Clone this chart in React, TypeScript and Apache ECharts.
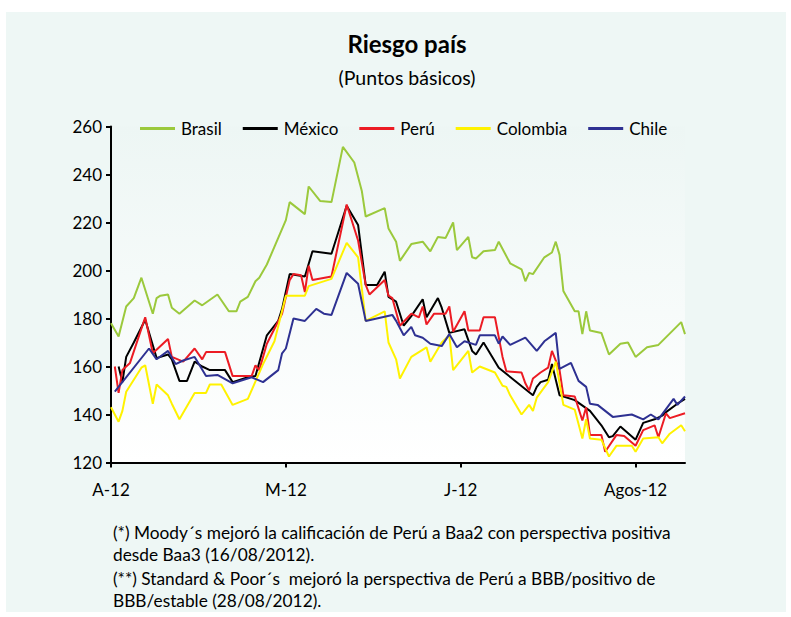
import React, { useEffect, useRef } from "react";
import * as echarts from "echarts";

// x values are calendar days counted from 2 April 2012
const xTickDays = [0, 46, 92, 138];
const xTickLabels = ["A-12", "M-12", "J-12", "Agos-12"];
const seriesNames = ["Brasil", "México", "Perú", "Colombia", "Chile"];
const seriesColors = ["#9bc93c", "#000000", "#ec1c24", "#fff200", "#2e3192"];

const brasil: [number, number][] = [
  [0, 178], [2, 172.5], [4, 185], [6, 188.5], [8, 197], [11, 182], [12, 188.5], [13, 189.5], [15, 190],
  [16, 184.5], [18, 182], [22, 187.5], [24, 185.5], [28, 190], [31, 183], [33, 183], [34, 187], [36, 189],
  [38, 195.5], [39, 197], [41, 202.5], [46, 221], [47, 228.5], [51, 223.5], [52, 235], [55, 229], [58, 228.5],
  [61, 251.5], [64, 245], [66, 233], [67, 222.5], [72, 226], [73, 217.5], [75, 212], [76, 204], [79, 211],
  [82, 212], [84, 208], [86, 214], [88, 213.5], [90, 220], [91, 208.5], [94, 214], [95, 205.5], [96, 205],
  [98, 208], [101, 208.5], [102, 212], [105, 203], [108, 200.5], [109, 195.5], [110, 199], [111, 198.5],
  [114, 205.5], [116, 207.5], [117, 212], [118, 206.5], [119, 191.5], [122, 183], [123, 183], [124, 173.5],
  [125, 183], [126, 175], [129, 174], [131, 165], [134, 169.5], [136, 170], [138, 164], [141, 168], [144, 169],
  [150, 178.5], [151, 173.5],
];
const mexico: [number, number][] = [
  [2, 160], [3, 153.5], [4, 164], [6, 170], [9, 179.5], [12, 163.5], [15, 165], [16, 163], [18, 154], [20, 154],
  [22, 162], [24, 160], [26, 158.5], [30, 158.5], [32, 153.5], [36, 155.5], [38, 156], [41, 173], [44, 179],
  [45, 184], [47, 198.5], [51, 197.5], [53, 208], [58, 207], [62, 227], [65, 219], [67, 194], [70, 194],
  [72, 199.5], [73, 189], [75, 187], [77, 177], [79, 181], [82, 188], [83, 180.5], [86, 188.5], [87, 184.5],
  [89, 174], [93, 175.5], [95, 166.5], [96, 165], [98, 170], [102, 159.5], [111, 148], [112, 151.5],
  [113, 153.5], [115, 154.5], [116, 161], [118, 148], [122, 146], [126, 141.5], [129, 135.5], [131, 130.5],
  [132, 131], [134, 135], [138, 129.5], [140, 136.5], [143, 138], [145, 139.5], [146, 141], [149, 144.5],
  [151, 146.5],
];
const peru: [number, number][] = [
  [1, 160], [2, 149], [3, 158.5], [5, 161.5], [9, 180.5], [11, 165.5], [15, 171.5], [16, 164], [19, 162],
  [22, 167.5], [24, 163], [25, 166], [30, 166], [32, 156], [37, 156], [38, 160.5], [39, 158.5], [41, 169.5],
  [45, 182], [47, 196], [48, 198.5], [50, 198], [51, 191], [52, 202], [53, 196], [58, 197.5], [62, 227.5],
  [65, 212.5], [67, 194], [68, 190], [72, 196], [73, 189.5], [74, 188.5], [76, 177], [79, 182], [81, 180.5],
  [82, 185], [83, 177.5], [85, 182], [88, 182], [89, 185], [90, 174.5], [93, 183], [94, 175], [97, 175],
  [98, 180.5], [101, 180.5], [103, 164], [104, 158], [108, 157.5], [109, 153], [110, 150], [111, 155],
  [113, 157.5], [115, 159.5], [116, 166.5], [118, 158.5], [119, 148], [122, 147.5], [124, 137.5], [125, 143],
  [126, 131.5], [129, 131.5], [130, 124.5], [133, 131.5], [135, 131], [138, 127], [140, 133.5], [143, 135.5],
  [144, 130.5], [146, 140.5], [147, 138.5], [151, 140.5],
];
const colombia: [number, number][] = [
  [0, 143], [2, 137], [3, 141.5], [4, 149.5], [6, 154.5], [8, 159.5], [9, 160.5], [11, 144.5], [12, 152.5],
  [15, 148], [16, 144.5], [18, 138], [22, 149], [25, 149], [26, 152.5], [29, 152.5], [32, 144], [36, 146.5],
  [40, 161], [43, 170.5], [46, 189.5], [51, 189.5], [52, 193.5], [58, 196.5], [62, 211.5], [65, 205.5],
  [67, 179], [72, 183], [73, 170], [75, 163], [76, 155], [79, 164], [83, 168], [84, 162], [87, 170], [89, 173],
  [90, 158.5], [94, 166.5], [95, 157.5], [97, 160], [101, 157.5], [103, 152], [104, 151.5], [105, 148],
  [108, 140], [110, 144], [111, 141.5], [112, 147], [115, 153.5], [117, 162], [119, 144], [122, 142],
  [124, 130], [125, 138], [126, 130], [129, 129.5], [131, 122.5], [133, 127], [137, 127], [138, 124.5],
  [140, 130], [144, 130.5], [145, 128], [147, 132], [150, 135.5], [151, 133],
];
const chile: [number, number][] = [
  [1, 149.5], [10, 167.5], [12, 163], [15, 166.5], [17, 161], [19, 162.5], [22, 164], [25, 156], [28, 156.5],
  [32, 153], [37, 155.5], [40, 153.5], [44, 158.5], [45, 165.5], [46, 167.5], [48, 180], [51, 179], [54, 184],
  [56, 182], [58, 181.5], [62, 199], [65, 194.5], [67, 179], [74, 181.5], [75, 179], [77, 173], [79, 176.5],
  [80, 173], [82, 172], [84, 169.5], [87, 168.5], [89, 173.5], [91, 168], [93, 170.5], [96, 169], [97, 173],
  [101, 173], [102, 169.5], [103, 172.5], [105, 169], [109, 172], [112, 166.5], [114, 170.5], [117, 174],
  [118, 159], [121, 161.5], [123, 154], [125, 151.5], [126, 144.5], [128, 144], [132, 139], [137, 140],
  [140, 138], [142, 140], [144, 138], [148, 146.5], [149, 144], [151, 147.5],
];
const allSeries = [brasil, mexico, peru, colombia, chile];

const titleText = "Riesgo país";
const subtitleText = "(Puntos básicos)";
const notes = [
  "(*) Moody´s mejoró la calificación de Perú a Baa2 con perspectiva positiva",
  "desde Baa3 (16/08/2012).",
  "(**) Standard & Poor´s  mejoró la perspectiva de Perú a BBB/positivo de",
  "BBB/estable (28/08/2012).",
];

const FONT = "Lato, 'Open Sans', sans-serif";

export default function App() {
  const ref = useRef<HTMLDivElement>(null);
  useEffect(() => {
    if (!ref.current) return;
    const chart = echarts.init(ref.current, undefined, { renderer: "svg" });
    const noteY = [532, 554, 578, 600];
    chart.setOption({
      animation: false,
      textStyle: { fontFamily: FONT },
      grid: {
        left: 111,
        top: 126.5,
        width: 574,
        height: 336,
        show: true,
        borderWidth: 0,
        backgroundColor: new echarts.graphic.LinearGradient(0, 0, 0, 1, [
          { offset: 0, color: "#edf6f4" },
          { offset: 1, color: "#ffffff" },
        ]),
      },
      legend: {
        data: seriesNames,
        left: 135,
        top: 115,
        icon: "rect",
        itemWidth: 35,
        itemHeight: 3,
        itemGap: 21,
        textStyle: { fontSize: 17, color: "#000", fontFamily: FONT, padding: [0, 0, 0, 1] },
      },
      xAxis: {
        type: "value",
        min: 0,
        max: 151,
        axisLine: { lineStyle: { color: "#000", width: 2 } },
        axisTick: { show: true, customValues: xTickDays, length: 5, lineStyle: { color: "#000", width: 2 } },
        axisLabel: {
          customValues: xTickDays,
          formatter: (v: number) => {
            const i = xTickDays.indexOf(v);
            return i >= 0 ? xTickLabels[i] : "";
          },
          fontSize: 17,
          color: "#000",
          margin: 18,
          fontFamily: FONT,
        },
        splitLine: { show: false },
      },
      yAxis: {
        type: "value",
        min: 120,
        max: 260,
        interval: 20,
        axisLine: { show: true, lineStyle: { color: "#000", width: 2 } },
        axisTick: { show: true, length: 5, lineStyle: { color: "#000", width: 2 } },
        axisLabel: { fontSize: 17, color: "#000", margin: 9, fontFamily: FONT },
        splitLine: { show: false },
      },
      series: allSeries.map((d, i) => ({
        name: seriesNames[i],
        type: "line",
        data: d,
        symbol: "none",
        color: seriesColors[i],
        lineStyle: { color: seriesColors[i], width: 2 },
      })),
      graphic: [
        {
          type: "rect",
          z: -10,
          silent: true,
          shape: { x: 6, y: 12, width: 780, height: 600 },
          style: { fill: "#eef7f5" },
        },
        {
          type: "text",
          x: 407,
          y: 43,
          style: { text: titleText, fontSize: 24, fontWeight: "bold", fontFamily: FONT, fill: "#000", align: "center", verticalAlign: "middle" },
        },
        {
          type: "text",
          x: 407,
          y: 77,
          style: { text: subtitleText, fontSize: 19.5, fontFamily: FONT, fill: "#000", align: "center", verticalAlign: "middle" },
        },
        ...notes.map((t, i) => ({
          type: "text",
          x: 113,
          y: noteY[i],
          style: { text: t, fontSize: 17.3, fontFamily: FONT, fill: "#000", align: "left", verticalAlign: "middle" },
        })),
      ],
    });
    return () => chart.dispose();
  }, []);
  return (
    <div
      ref={ref}
      style={{ position: "fixed", left: 0, top: 0, width: 791, height: 617, background: "#fff" }}
    />
  );
}
